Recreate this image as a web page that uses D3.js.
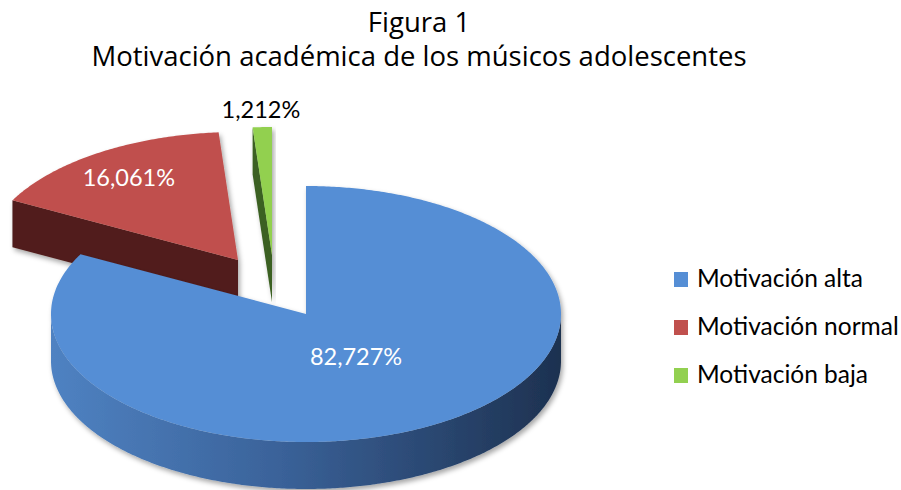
<!DOCTYPE html>
<html>
<head>
<meta charset="utf-8">
<script src="https://cdn.jsdelivr.net/npm/d3@7"></script>
<style>
  body { margin: 0; background: #fff; }
</style>
</head>
<body>
<script>
// chart data
var categories = ["Motivación alta", "Motivación normal", "Motivación baja"];
var percents = [82.727, 16.061, 1.212];
var valueLabels = ["82,727%", "16,061%", "1,212%"];
var titleLines = ["Figura 1", "Motivación académica de los músicos adolescentes"];

// colours for top faces and for the dark cut faces
var topColors = ["#558ed5", "#c0504d", "#92d050"];
var cutColors = ["#2a4a78", "#511e1c", "#3b6021"];

// SVG area
var svgWidth = 901;
var svgHeight = 490;

// pie geometry (3d look: flattened ellipse + depth)
var cx = 306, cy = 314;
var rx = 255, ry = 128;
var depth = 47;
// how far each slice is pulled out, in px (red & green are exploded)
var explode = [[0, 0], [-68, -54], [-34, -59]];
// where the value label sits, as fraction of radius
var labelRadius = [0.38, 0.78, 1.14];
var labelColors = ["#fff", "#fff", "#000"];

var svg = d3.select("body")
  .append("svg")
  .attr("width", svgWidth)
  .attr("height", svgHeight);

var defs = svg.append("defs");

// gradient on the front wall of the big slice
var grad = defs.append("linearGradient")
  .attr("id", "blueSide")
  .attr("x1", "0").attr("x2", "1").attr("y1", "0").attr("y2", "0");
grad.append("stop").attr("offset", "0%").attr("stop-color", "#4f82c2");
grad.append("stop").attr("offset", "45%").attr("stop-color", "#3a6299");
grad.append("stop").attr("offset", "100%").attr("stop-color", "#1d3150");

var shadow = defs.append("filter")
  .attr("id", "shadow")
  .attr("x", "-10%").attr("y", "-10%").attr("width", "130%").attr("height", "130%");
shadow.append("feDropShadow")
  .attr("dx", 2).attr("dy", 3)
  .attr("stdDeviation", 2.5)
  .attr("flood-color", "#000")
  .attr("flood-opacity", 0.35);

// scales for the ellipse projection
var xScale = d3.scaleLinear().domain([-1, 1]).range([-rx, rx]);
var yScale = d3.scaleLinear().domain([-1, 1]).range([ry, -ry]);

// pie layout, clockwise starting at 12 o'clock
var pie = d3.pie().sort(null).startAngle(0).endAngle(2 * Math.PI);
var arcs = pie(percents);

function pt(a, r, ox, oy, dz) {
  return [ox + cx + xScale(r * Math.sin(a)), oy + cy + yScale(r * Math.cos(a)) + (dz || 0)];
}

function arcPoints(a0, a1, ox, oy, dz) {
  var n = Math.max(2, Math.ceil((a1 - a0) / 0.01));
  return d3.range(n + 1).map(function (i) {
    return pt(a0 + (a1 - a0) * i / n, 1, ox, oy, dz);
  });
}

var line = d3.line();

// back to front: red, green, blue
var drawOrder = [1, 2, 0];

drawOrder.forEach(function (i) {
  var d = arcs[i];
  var ox = explode[i][0], oy = explode[i][1];
  var g = svg.append("g").attr("filter", "url(#shadow)");

  // outer wall, only the part facing the viewer (90..270 deg)
  var f0 = Math.max(d.startAngle, Math.PI / 2);
  var f1 = Math.min(d.endAngle, 3 * Math.PI / 2);
  if (f1 > f0) {
    var topEdge = arcPoints(f0, f1, ox, oy, 0);
    var botEdge = arcPoints(f0, f1, ox, oy, depth).reverse();
    g.append("path")
      .attr("d", line(topEdge.concat(botEdge)) + "Z")
      .attr("fill", i === 0 ? "url(#blueSide)" : cutColors[i]);
  }

  // cut faces
  [[d.startAngle, Math.sin(d.startAngle) < -1e-6],
   [d.endAngle, Math.sin(d.endAngle) > 1e-6]].forEach(function (f) {
    if (!f[1]) return;
    var c = pt(0, 0, ox, oy, 0);
    var o = pt(f[0], 1, ox, oy, 0);
    var quad = [c, o, [o[0], o[1] + depth], [c[0], c[1] + depth]];
    g.append("path")
      .attr("d", line(quad) + "Z")
      .attr("fill", cutColors[i]);
  });

  // top face
  var topPts = [pt(0, 0, ox, oy, 0)].concat(arcPoints(d.startAngle, d.endAngle, ox, oy, 0));
  g.append("path")
    .attr("d", line(topPts) + "Z")
    .attr("fill", topColors[i]);
});

// value labels
arcs.forEach(function (d, i) {
  var mid = (d.startAngle + d.endAngle) / 2;
  var p = pt(mid, labelRadius[i], explode[i][0], explode[i][1], 0);
  svg.append("text")
    .attr("x", p[0])
    .attr("y", p[1])
    .attr("text-anchor", "middle")
    .attr("dominant-baseline", "central")
    .attr("font-family", "Lato, sans-serif")
    .attr("font-size", "23.5px")
    .attr("fill", labelColors[i])
    .text(valueLabels[i]);
});

// title
svg.selectAll(".title")
  .data(titleLines)
  .enter()
  .append("text")
  .attr("class", "title")
  .attr("x", 419)
  .attr("y", (d, i) => 32 + i * 34)
  .attr("text-anchor", "middle")
  .attr("font-family", "'Open Sans', sans-serif")
  .attr("font-size", "27.5px")
  .attr("fill", "#000")
  .text(d => d);

// legend
var legend = svg.append("g")
  .attr("transform", "translate(674, 272)");

var rows = legend.selectAll("g")
  .data(categories)
  .enter()
  .append("g")
  .attr("transform", (d, i) => `translate(0, ${i * 48})`);

rows.append("rect")
  .attr("width", 14)
  .attr("height", 15)
  .attr("fill", (d, i) => topColors[i]);

rows.append("text")
  .attr("x", 23)
  .attr("y", 15)
  .attr("font-family", "Lato, sans-serif")
  .attr("font-size", "24.5px")
  .attr("fill", "#000")
  .text(d => d);
</script>
</body>
</html>
